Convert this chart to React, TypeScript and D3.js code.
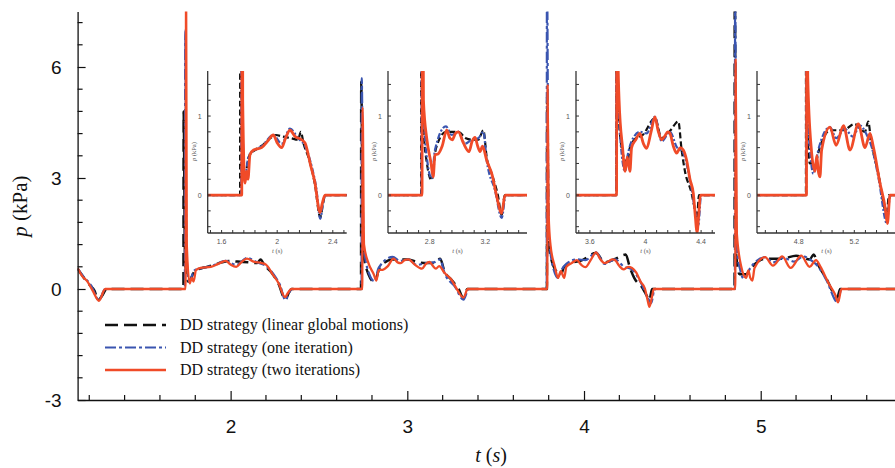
import * as d3 from "d3";
import { useEffect, useRef } from "react";

type Pt = [number, number];

// t (s), p (kPa)
const linearGlobal: Pt[] = [
  [1.134, 0.55], [1.17, 0.3], [1.2, 0.12], [1.23, -0.05], [1.25, -0.3], [1.27, -0.2], [1.3, 0], [1.733, 0],
  [1.734, 4.8], [1.742, 0.8], [1.76, 0.2], [1.8, 0.5], [1.85, 0.58], [1.9, 0.64], [1.95, 0.72], [1.99, 0.76],
  [2.04, 0.74], [2.1, 0.72], [2.15, 0.7], [2.17, 0.8], [2.19, 0.65], [2.23, 0.45], [2.27, 0.15], [2.31, -0.28],
  [2.33, -0.1], [2.345, 0], [2.738, 0],
  [2.739, 5.6], [2.75, 1.0], [2.78, 0.4], [2.814, 0.19], [2.845, 0.59], [2.917, 0.8], [3.006, 0.8], [3.06, 0.72],
  [3.11, 0.7], [3.15, 0.7], [3.186, 0.82], [3.21, 0.48], [3.25, 0.25], [3.29, 0.0], [3.318, -0.25], [3.34, 0],
  [3.79, 0],
  [3.791, 5.2], [3.8, 1.2], [3.84, 0.5], [3.87, 0.4], [3.886, 0.59], [3.92, 0.7], [3.98, 0.76], [4.068, 0.97],
  [4.116, 0.72], [4.18, 0.82], [4.236, 0.93], [4.26, 0.57], [4.284, 0.3], [4.332, 0.02], [4.356, -0.19],
  [4.37, -0.3], [4.385, 0], [4.852, 0],
  [4.853, 9], [4.86, 1.0], [4.88, 0.4], [4.917, 0.4], [4.953, 0.61], [5.025, 0.82], [5.122, 0.82], [5.2, 0.9],
  [5.277, 0.8], [5.3, 0.93], [5.32, 0.7], [5.373, 0.27], [5.433, -0.23], [5.45, 0], [5.76, 0],
];

const oneIteration: Pt[] = [
  [1.134, 0.55], [1.17, 0.32], [1.21, 0.1], [1.255, -0.3], [1.29, 0], [1.741, 0],
  [1.743, 7.0], [1.75, 1.0], [1.765, 0.2], [1.795, 0.5], [1.85, 0.58], [1.89, 0.62], [1.972, 0.76],
  [2.032, 0.65], [2.092, 0.84], [2.15, 0.72], [2.2, 0.62], [2.25, 0.35], [2.28, 0.1], [2.31, -0.3],
  [2.33, -0.1], [2.348, 0], [2.741, 0],
  [2.742, 5.7], [2.752, 1.2], [2.785, 0.4], [2.814, 0.21], [2.838, 0.57], [2.917, 0.87], [2.958, 0.76],
  [3.006, 0.8], [3.054, 0.65], [3.102, 0.7], [3.15, 0.72], [3.186, 0.8], [3.21, 0.44], [3.27, 0.06],
  [3.318, -0.29], [3.347, 0], [3.789, 0],
  [3.79, 9], [3.8, 1.5], [3.83, 0.5], [3.853, 0.3], [3.869, 0.48], [3.9, 0.68], [3.96, 0.8], [4.008, 0.78],
  [4.068, 0.99], [4.116, 0.68], [4.176, 0.8], [4.224, 0.61], [4.272, 0.53], [4.32, 0.19], [4.368, -0.3],
  [4.38, -0.38], [4.4, 0], [4.854, 0],
  [4.855, 9], [4.862, 1.2], [4.885, 0.5], [4.905, 0.27], [4.941, 0.57], [5.025, 0.86], [5.07, 0.72],
  [5.13, 0.84], [5.19, 0.74], [5.24, 0.88], [5.29, 0.76], [5.325, 0.61], [5.373, 0.23], [5.435, -0.36],
  [5.457, 0], [5.76, 0],
];

const twoIterations: Pt[] = [
  [1.134, 0.57], [1.16, 0.35], [1.19, 0.2], [1.22, -0.05], [1.255, -0.32], [1.29, 0], [1.745, 0],
  [1.748, 8.5], [1.752, 1.2], [1.768, 0.15], [1.78, 0.3], [1.79, 0.2], [1.804, 0.51], [1.83, 0.57],
  [1.888, 0.6], [1.93, 0.68], [1.972, 0.76], [2.0, 0.66], [2.032, 0.6], [2.06, 0.72], [2.092, 0.82],
  [2.13, 0.74], [2.176, 0.7], [2.2, 0.66], [2.24, 0.38], [2.27, 0.17], [2.308, -0.22], [2.325, -0.1],
  [2.344, 0], [2.745, 0],
  [2.747, 4.9], [2.755, 1.2], [2.78, 0.7], [2.81, 0.4], [2.825, 0.23], [2.838, 0.51], [2.86, 0.52],
  [2.89, 0.62], [2.922, 0.82], [2.945, 0.72], [2.963, 0.7], [2.985, 0.78], [3.006, 0.8], [3.042, 0.66],
  [3.083, 0.55], [3.105, 0.68], [3.126, 0.73], [3.145, 0.62], [3.162, 0.55], [3.18, 0.62], [3.21, 0.44],
  [3.25, 0.25], [3.28, 0.0], [3.318, -0.23], [3.342, 0], [3.792, 0],
  [3.794, 5.5], [3.8, 2.0], [3.81, 1.2], [3.835, 0.6], [3.853, 0.3], [3.869, 0.48], [3.888, 0.3],
  [3.9, 0.6], [3.93, 0.7], [3.96, 0.78], [3.985, 0.65], [4.008, 0.59], [4.04, 0.8], [4.068, 0.99],
  [4.09, 0.82], [4.116, 0.7], [4.14, 0.75], [4.16, 0.8], [4.176, 0.78], [4.2, 0.62], [4.224, 0.53],
  [4.25, 0.6], [4.272, 0.57], [4.296, 0.44], [4.32, 0.2], [4.344, 0.02], [4.36, -0.3], [4.37, -0.48],
  [4.385, -0.2], [4.395, 0], [4.856, 0],
  [4.858, 6.2], [4.865, 1.5], [4.89, 0.6], [4.917, 0.3], [4.93, 0.5], [4.941, 0.3], [4.953, 0.23],
  [4.965, 0.57], [5.025, 0.86], [5.069, 0.63], [5.122, 0.88], [5.169, 0.57], [5.229, 0.9], [5.277, 0.6],
  [5.313, 0.78], [5.337, 0.61], [5.385, 0.15], [5.421, -0.15], [5.438, -0.36], [5.457, 0], [5.76, 0],
];

const legendLabels = [
  "DD strategy (linear global motions)",
  "DD strategy (one iteration)",
  "DD strategy (two iterations)",
];
const xTicks = [2, 3, 4, 5];
const yTicks = [-3, 0, 3, 6];
const insetStarts = [1.5, 2.5, 3.5, 4.5];
const insetLefts = [207.7, 388, 576, 757];
const insetYTicks = [0, 1];

const App = () => {
  const svgRef = useRef<SVGSVGElement | null>(null);

  useEffect(() => {
    if (!svgRef.current) return;
    const width = 895;
    const height = 468;
    const svg = d3.select(svgRef.current).attr("width", width).attr("height", height);
    svg.selectAll("*").remove();

    const styles = [
      { data: linearGlobal, color: "#111111", dash: "13,6", insetDash: "6,3", w: 2.5 },
      { data: oneIteration, color: "#3a55b0", dash: "11,3,3,3", insetDash: "6,2,2,2", w: 2.2 },
      { data: twoIterations, color: "#f04b28", dash: null, insetDash: null, w: 2.3 },
    ];

    const x = d3.scaleLinear().domain([1.134, 5.76]).range([77.6, 895]);
    const y = d3.scaleLinear().domain([-3, 7.5]).range([400, 11.5]);

    const defs = svg.append("defs");
    defs.append("clipPath").attr("id", "clip-main")
      .append("rect").attr("x", 77.6).attr("y", 11.5).attr("width", 830).attr("height", 389);

    // main curves
    const line = d3.line<Pt>().x(d => x(d[0])).y(d => y(d[1])).curve(d3.curveMonotoneX);
    const main = svg.append("g").attr("clip-path", "url(#clip-main)");
    styles.forEach(s => {
      main.append("path").datum(s.data)
        .attr("fill", "none").attr("stroke", s.color).attr("stroke-width", s.w)
        .attr("stroke-dasharray", s.dash).attr("stroke-linejoin", "round")
        .attr("d", line);
    });

    // main axes
    const yAxis = svg.append("g").attr("transform", "translate(77.6,0)")
      .call(d3.axisLeft(y).tickValues(yTicks).tickSizeInner(-8).tickSizeOuter(0).tickPadding(16)
        .tickFormat(d => String(d)));
    yAxis.select(".domain").attr("stroke", "#111").attr("stroke-width", 1.3);
    yAxis.selectAll("line").attr("stroke", "#111").attr("stroke-width", 1.2);
    yAxis.selectAll("text").attr("font-family", "Liberation Sans, Arial").attr("font-size", 19).attr("fill", "#111");
    const yMinor = d3.range(-2.4, 7.3, 0.6).filter(v => Math.abs(v / 3 - Math.round(v / 3)) > 0.01);
    svg.append("g").selectAll("line").data(yMinor).join("line")
      .attr("x1", 77.6).attr("x2", 82.6).attr("y1", d => y(d)).attr("y2", d => y(d))
      .attr("stroke", "#111").attr("stroke-width", 1.2);

    const xAxis = svg.append("g").attr("transform", "translate(0,400)")
      .call(d3.axisBottom(x).tickValues(xTicks).tickSizeInner(-9).tickSizeOuter(0).tickPadding(19.5)
        .tickFormat(d => String(d)));
    xAxis.select(".domain").attr("stroke", "#111").attr("stroke-width", 1.3);
    xAxis.selectAll("line").attr("stroke", "#111").attr("stroke-width", 1.2);
    xAxis.selectAll("text").attr("font-family", "Liberation Sans, Arial").attr("font-size", 19).attr("fill", "#111");
    const xMinor = d3.range(1.2, 5.75, 0.2).filter(v => Math.abs(v - Math.round(v)) > 0.01);
    svg.append("g").selectAll("line").data(xMinor).join("line")
      .attr("x1", d => x(d)).attr("x2", d => x(d)).attr("y1", 400).attr("y2", 395)
      .attr("stroke", "#111").attr("stroke-width", 1.2);

    // axis titles
    const yTitle = svg.append("text").attr("transform", "translate(27,206) rotate(-90)")
      .attr("text-anchor", "middle").attr("font-family", "Liberation Serif, Times New Roman")
      .attr("font-size", 21).attr("fill", "#111");
    yTitle.append("tspan").attr("font-style", "italic").text("p");
    yTitle.append("tspan").text(" (kPa)");
    const xTitle = svg.append("text").attr("x", 491).attr("y", 462)
      .attr("text-anchor", "middle").attr("font-family", "Liberation Serif, Times New Roman")
      .attr("font-size", 20).attr("fill", "#111");
    xTitle.append("tspan").attr("font-style", "italic").text("t");
    xTitle.append("tspan").text(" (");
    xTitle.append("tspan").attr("font-style", "italic").text("s");
    xTitle.append("tspan").text(")");

    // legend
    const legend = svg.append("g");
    styles.forEach((s, i) => {
      const ly = 325 + i * 22.5;
      legend.append("line").attr("x1", 105).attr("x2", 166).attr("y1", ly).attr("y2", ly)
        .attr("stroke", s.color).attr("stroke-width", s.w).attr("stroke-dasharray", s.dash);
      legend.append("text").attr("x", 180).attr("y", ly + 5)
        .attr("font-family", "Liberation Serif, Times New Roman").attr("font-size", 16)
        .attr("fill", "#111").text(legendLabels[i]);
    });

    // insets
    const inTop = 71;
    const inBottom = 233;
    const inW = 139;
    const yIn = d3.scaleLinear().domain([-0.48, 1.57]).range([inBottom, inTop]);
    insetStarts.forEach((t0, k) => {
      const left = insetLefts[k];
      const xIn = d3.scaleLinear().domain([t0, t0 + 1]).range([left, left + inW]);
      const g = svg.append("g");
      defs.append("clipPath").attr("id", `clip-in-${k}`)
        .append("rect").attr("x", left).attr("y", inTop).attr("width", inW).attr("height", inBottom - inTop);
      const inLine = d3.line<Pt>().x(d => xIn(d[0])).y(d => yIn(d[1])).curve(d3.curveMonotoneX);
      const curves = g.append("g").attr("clip-path", `url(#clip-in-${k})`);
      styles.forEach(s => {
        curves.append("path").datum(s.data)
          .attr("fill", "none").attr("stroke", s.color).attr("stroke-width", s.dash ? 2.2 : 2.8)
          .attr("stroke-dasharray", s.insetDash).attr("stroke-linejoin", "round")
          .attr("d", inLine);
      });
      // axes
      g.append("line").attr("x1", left).attr("x2", left).attr("y1", inTop).attr("y2", inBottom)
        .attr("stroke", "#333").attr("stroke-width", 1.3);
      g.append("line").attr("x1", left).attr("x2", left + inW).attr("y1", inBottom).attr("y2", inBottom)
        .attr("stroke", "#333").attr("stroke-width", 1.3);
      const yt = d3.range(-0.4, 1.5, 0.2);
      g.append("g").selectAll("line").data(yt).join("line")
        .attr("x1", left).attr("x2", left + 3).attr("y1", d => yIn(d)).attr("y2", d => yIn(d))
        .attr("stroke", "#333").attr("stroke-width", 1);
      g.append("g").selectAll("text").data(insetYTicks).join("text")
        .attr("x", left - 6).attr("y", d => yIn(d) + 2.5).attr("text-anchor", "end")
        .attr("font-family", "Liberation Sans, Arial").attr("font-size", 7).attr("fill", "#555")
        .text(d => String(d));
      const xt = d3.range(-20, 60).map(i => 1.6 + i * 0.08).filter(v => v > t0 + 0.001 && v < t0 + 0.999);
      g.append("g").selectAll("line").data(xt).join("line")
        .attr("x1", d => xIn(d)).attr("x2", d => xIn(d)).attr("y1", inBottom).attr("y2", inBottom - 3)
        .attr("stroke", "#333").attr("stroke-width", 1);
      const xl = d3.range(0, 12).map(i => 1.6 + i * 0.4).filter(v => v > t0 && v < t0 + 1);
      g.append("g").selectAll("text").data(xl).join("text")
        .attr("x", d => xIn(d)).attr("y", inBottom + 11).attr("text-anchor", "middle")
        .attr("font-family", "Liberation Sans, Arial").attr("font-size", 7).attr("fill", "#555")
        .text(d => d3.format("~g")(+d.toFixed(1)));
      const it = g.append("text").attr("x", left + inW / 2).attr("y", inBottom + 20)
        .attr("text-anchor", "middle").attr("font-family", "Liberation Serif, Times New Roman")
        .attr("font-size", 6.5).attr("fill", "#555");
      it.append("tspan").attr("font-style", "italic").text("t");
      it.append("tspan").text(" (s)");
      const ip = g.append("text").attr("transform", `translate(${left - 12},${yIn(0.55)}) rotate(-90)`)
        .attr("text-anchor", "middle").attr("font-family", "Liberation Serif, Times New Roman")
        .attr("font-size", 6.5).attr("fill", "#555");
      ip.append("tspan").attr("font-style", "italic").text("p");
      ip.append("tspan").text(" (kPa)");
    });
  }, []);

  return (
    <svg ref={svgRef} style={{ position: "absolute", left: 0, top: 0, background: "#fff" }}></svg>
  );
};

export default App;
